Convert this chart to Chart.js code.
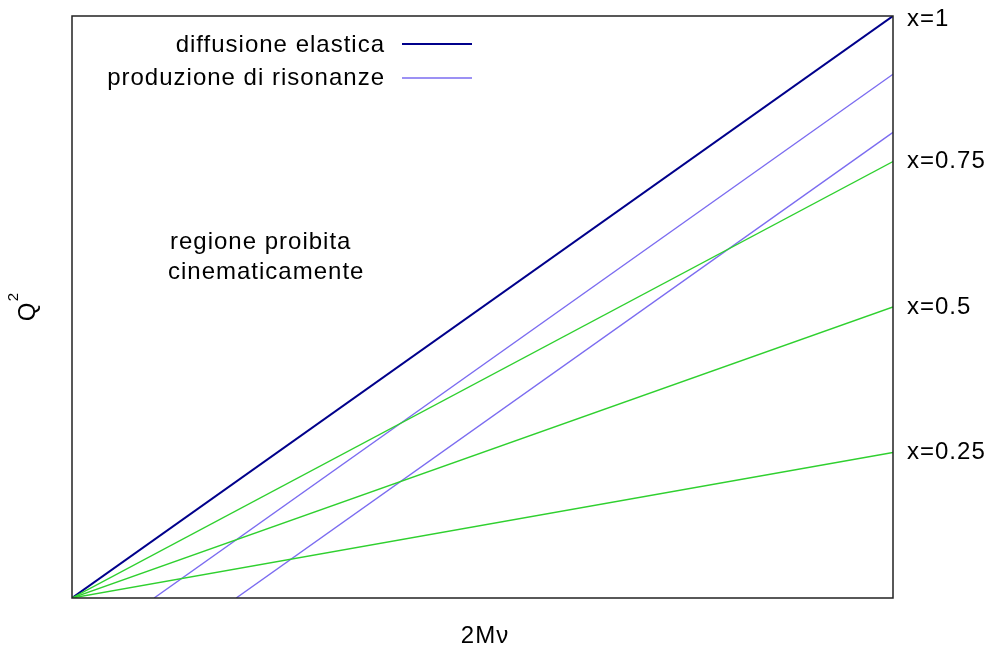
<!DOCTYPE html>
<html>
<head>
<meta charset="utf-8">
<script src="https://cdn.jsdelivr.net/npm/chart.js@4"></script>
<style>
  html, body { margin: 0; padding: 0; background: #fff; }
  #wrap { width: 991px; height: 650px; }
</style>
</head>
<body>
<div id="wrap"><canvas id="grafico" width="991" height="650"></canvas></div>
<script>
// Dati (2Mν e Q² normalizzati a 0..1)
const nuElastica = [0, 1];
const q2Elastica = [0, 1];

const nuRisonanza1 = [0.1, 1];
const q2Risonanza1 = [0, 0.9];
const nuRisonanza2 = [0.2, 1];
const q2Risonanza2 = [0, 0.8];

const nuBjorken = [0, 1];
const q2Bjorken075 = [0, 0.75];
const q2Bjorken050 = [0, 0.5];
const q2Bjorken025 = [0, 0.25];

const etichetteDestra = ['x=1', 'x=0.75', 'x=0.5', 'x=0.25'];
const valoriDestra = [1, 0.75, 0.5, 0.25];

const FONT = '"Liberation Sans", Arial, sans-serif';
const BLU_SCURO = '#00008b';
const BLU_CHIARO = '#7b6cf0';
const VERDE = '#2fd02f';

function punti(xs, ys) {
  return xs.map((x, i) => ({ x: x, y: ys[i] }));
}

// Disegna cornice, etichette, legenda e titoli degli assi
const decorazioni = {
  id: 'decorazioni',
  afterDatasetsDraw(chart) {
    const ctx = chart.ctx;
    const a = chart.chartArea;
    const sy = chart.scales.y;
    ctx.save();

    ctx.strokeStyle = '#222';
    ctx.lineWidth = 1.5;
    ctx.strokeRect(a.left, a.top, a.right - a.left, a.bottom - a.top);

    ctx.fillStyle = '#000';
    ctx.font = '24px ' + FONT;
    ctx.letterSpacing = '1px';
    ctx.textBaseline = 'middle';

    // etichette x=...
    ctx.textAlign = 'left';
    etichetteDestra.forEach((t, i) => {
      let y = sy.getPixelForValue(valoriDestra[i]);
      if (i === 0) y += 3;
      ctx.fillText(t, a.right + 14, y);
    });

    // legenda
    ctx.textAlign = 'right';
    ctx.fillText('diffusione elastica', 385, 45);
    ctx.fillText('produzione di risonanze', 385, 78);
    ctx.lineWidth = 2;
    ctx.strokeStyle = BLU_SCURO;
    ctx.beginPath(); ctx.moveTo(402, 44); ctx.lineTo(472, 44); ctx.stroke();
    ctx.lineWidth = 1.3;
    ctx.strokeStyle = BLU_CHIARO;
    ctx.beginPath(); ctx.moveTo(402, 78); ctx.lineTo(472, 78); ctx.stroke();

    // regione proibita
    ctx.textAlign = 'left';
    ctx.fillText('regione proibita', 170, 242);
    ctx.fillText('cinematicamente', 168, 272);

    // titoli assi
    ctx.textAlign = 'center';
    ctx.fillText('2M\u03bd', 485, 636);

    ctx.translate(27, 312);
    ctx.rotate(-Math.PI / 2);
    ctx.letterSpacing = '0px';
    ctx.fillText('Q', 0, 1);
    ctx.font = '15px ' + FONT;
    ctx.fillText('2', 15, -13);
    ctx.restore();
  }
};

new Chart(document.getElementById('grafico').getContext('2d'), {
  type: 'scatter',
  data: {
    datasets: [
      { data: punti(nuBjorken, q2Bjorken075), borderColor: VERDE, borderWidth: 1.4 },
      { data: punti(nuBjorken, q2Bjorken050), borderColor: VERDE, borderWidth: 1.4 },
      { data: punti(nuBjorken, q2Bjorken025), borderColor: VERDE, borderWidth: 1.4 },
      { data: punti(nuRisonanza1, q2Risonanza1), borderColor: BLU_CHIARO, borderWidth: 1.4 },
      { data: punti(nuRisonanza2, q2Risonanza2), borderColor: BLU_CHIARO, borderWidth: 1.4 },
      { data: punti(nuElastica, q2Elastica), borderColor: BLU_SCURO, borderWidth: 2 }
    ].map(d => Object.assign(d, { showLine: true, pointRadius: 0, fill: false, tension: 0 }))
  },
  options: {
    responsive: false,
    animation: false,
    layout: { padding: { left: 72, right: 98, top: 16, bottom: 52 } },
    scales: {
      x: { type: 'linear', min: 0, max: 1, display: false },
      y: { type: 'linear', min: 0, max: 1, display: false }
    },
    plugins: {
      legend: { display: false },
      tooltip: { enabled: false }
    }
  },
  plugins: [decorazioni]
});
</script>
</body>
</html>
